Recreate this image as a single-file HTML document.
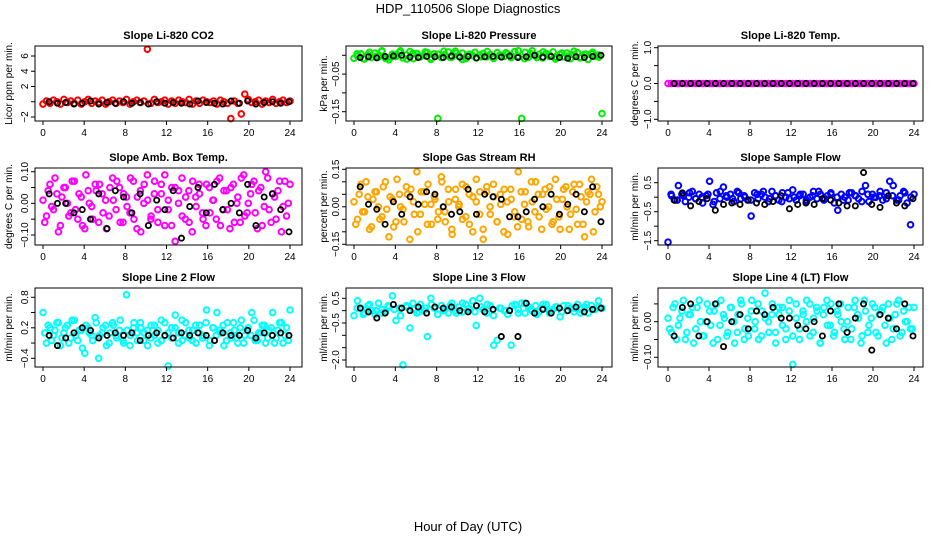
<!DOCTYPE html>
<html><head><meta charset="utf-8"><style>
body{margin:0;background:#fff;}
svg{display:block;font-family:"Liberation Sans",sans-serif;}
</style></head><body>
<svg id="chart" width="936" height="540" viewBox="0 0 936 540">
<text x="468" y="13" text-anchor="middle" font-size="13">HDP_110506  Slope Diagnostics</text>
<text x="468" y="531" text-anchor="middle" font-size="13">Hour of Day (UTC)</text>
</svg>
<script>
const xTicks=[0,4,8,12,16,20,24];
const co2Vals=[-0.3,0.1,-0.2,0.2,0.0,-0.3,0.3,-0.1,0.1,-0.2,0.2,-0.3,0.0,0.3,-0.2,0.1,-0.1,0.2,-0.3,0.0,0.2,-0.2,0.1,-0.1,0.3,-0.3,0.0,0.2,-0.1,0.1,6.9,-0.2,0.3,-0.1,0.0,0.2,-0.3,0.1,-0.2,0.2,0.0,-0.1,0.3,-0.3,0.1,-0.2,0.2,0.0,-0.1,0.1,-0.3,0.2,0.0,-0.2,-2.2,0.1,-0.2,-1.6,1.0,0.3,-0.1,0.0,0.2,-0.3,0.1,-0.1,0.3,-0.2,0.0,0.2,-0.1,0.1];
const co2Vals2=[];
const co2Black=[0.0,-0.2,-0.1,-0.3,-0.2,0.1,-0.3,-0.1,-0.2,0.0,-0.2,-0.1,-0.3,0.0,-0.2,-0.1,-0.2,-0.3,0.1,-0.1,-0.2,-0.3,0.1,-0.2,0.1,-0.3,-0.1,0.0,-0.2,0.0];
const presVals=[-0.008,-0.002,0.004,-0.010,0.002,-0.006,0.006,-0.004,0.012,-0.008,-0.012,0.003,-0.003,0.008,-0.007,0.001,0.010,-0.009,0.005,-0.004,0.000,0.007,-0.011,0.004,-0.168,-0.006,0.002,0.009,-0.005,0.011,-0.002,0.006,-0.009,0.003,-0.001,-0.007,0.001,0.005,-0.004,0.002,-0.008,0.007,0.000,-0.003,0.004,-0.006,0.010,-0.002,-0.168,0.008,-0.005,0.012,-0.001,0.003,-0.007,0.005,-0.003,0.009,-0.006,0.002,-0.004,0.006,-0.009,0.001,0.007,-0.005,0.003,-0.011,0.004,-0.002,0.001,-0.155];
const presVals2=[0.004,-0.009,0.008,-0.003,0.010,-0.006,0.001,0.012,-0.010,0.005,-0.002,0.009,-0.007,0.003,0.011,-0.005,0.006,-0.011,0.002,0.008,-0.004,0.010,-0.008,0.000,0.007,-0.003,0.012,-0.009,0.004,-0.006,0.009,0.001,-0.010,0.006,-0.002,0.011,-0.007,0.003,0.008,-0.005];
const presBlack=[-0.006,-0.004,-0.007,-0.003,-0.002,0.000,-0.005,-0.006,-0.003,-0.004,-0.006,-0.002,-0.005,-0.003,-0.007,-0.004,-0.003,-0.005,-0.002,-0.006,-0.004,0.000,-0.005,-0.003,-0.006,-0.008,-0.004,-0.006,-0.003,0.000];
const tempVals=[0,0,0,0,0,0,0,0,0,0,0,0,0,0,0,0,0,0,0,0,0,0,0,0,0,0,0,0,0,0,0,0,0,0,0,0,0,0,0,0,0,0,0,0,0,0,0,0,0,0,0,0,0,0,0,0,0,0,0,0,0,0,0,0,0,0,0,0,0,0,0,0];
const tempVals2=[];
const tempBlack=[0,0,0,0,0,0,0,0,0,0,0,0,0,0,0,0,0,0,0,0,0,0,0,0,0,0,0,0,0,0];
const ambVals=[0.01,-0.04,0.06,-0.02,0.03,-0.07,0.05,0.00,-0.03,0.07,-0.05,0.02,-0.08,0.04,-0.01,0.06,-0.06,0.03,0.01,-0.04,0.08,-0.02,0.05,-0.06,0.02,-0.03,0.07,-0.08,0.04,0.00,0.09,-0.05,0.03,-0.02,0.06,-0.07,0.01,0.05,-0.12,0.04,-0.04,0.02,-0.06,0.07,-0.01,0.03,-0.05,0.06,-0.03,0.01,0.07,-0.07,0.04,-0.02,0.05,-0.06,0.02,0.08,-0.04,0.00,0.06,-0.03,0.04,-0.07,0.10,-0.02,0.03,-0.05,0.07,-0.01,-0.04,0.06];
const ambVals2=[-0.06,0.04,-0.01,0.08,-0.09,0.02,0.05,-0.04,0.07,-0.02,0.03,-0.07,0.09,0.00,-0.05,0.04,0.06,-0.03,-0.08,0.05,0.01,0.07,-0.06,0.03,-0.01,0.08,-0.05,0.02,-0.09,0.06,0.01,-0.04,0.07,-0.06,0.03,0.09,-0.02,-0.07,0.05,0.00,0.08,-0.05,0.04,-0.09,0.02,0.06,-0.03,-0.07,0.05,0.01,-0.05,0.08,-0.02,0.04,-0.08,0.06,0.00,-0.06,0.09,-0.03,0.03,0.07,-0.08,0.05,-0.01,0.08,-0.06,0.02,0.04,-0.09,0.07,0.00];
const ambBlack=[0.03,0.00,0.00,-0.03,-0.02,-0.05,0.03,-0.08,0.04,0.02,-0.03,0.03,-0.07,0.01,-0.02,0.04,-0.11,-0.01,0.05,-0.03,0.06,-0.02,0.00,-0.03,0.06,-0.07,0.02,0.03,-0.02,-0.09];
const rhVals=[0.02,-0.05,0.09,-0.02,0.04,-0.08,0.06,0.00,-0.04,0.10,-0.12,0.03,-0.06,0.05,-0.01,0.08,-0.13,0.02,0.14,-0.03,0.06,-0.07,0.01,0.04,-0.05,0.12,-0.02,0.07,-0.09,0.03,0.00,0.09,-0.04,0.05,-0.10,0.02,0.06,-0.13,0.08,-0.03,0.04,-0.06,0.01,0.07,-0.11,0.03,-0.02,0.14,-0.05,0.06,-0.08,0.02,0.10,-0.04,0.05,-0.01,0.08,-0.06,0.03,-0.09,0.07,0.00,-0.03,0.09,-0.07,0.04,-0.12,0.06,0.11,-0.02,0.05,0.02];
const rhVals2=[-0.07,0.05,-0.02,0.10,-0.09,0.03,0.06,-0.05,0.08,-0.01,0.04,-0.08,0.11,0.00,-0.06,0.05,0.07,-0.03,-0.10,0.06,0.01,0.09,-0.07,0.03,-0.02,0.10,-0.06,0.02,-0.11,0.07,0.01,-0.05,0.08,-0.07,0.04,0.11,-0.03,-0.09,0.06,0.00,0.09,-0.06,0.05,-0.10,0.02,0.07,-0.04,-0.08,0.06,0.01,-0.06,0.10,-0.02,0.05,-0.09,0.07,0.00,-0.07,0.11,-0.04,0.03,0.08,-0.09,0.06,-0.01,0.09,-0.07,0.02,0.05,-0.10,0.08,0.00];
const rhBlack=[0.08,0.01,-0.01,-0.07,0.02,-0.03,0.04,0.01,0.06,0.05,0.00,-0.03,-0.02,0.07,-0.03,0.05,0.04,0.03,-0.04,-0.04,-0.02,0.03,0.00,0.05,-0.03,0.01,0.05,-0.02,0.08,-0.06];
const sfVals=[-1.55,0.05,-0.10,0.40,0.10,-0.15,0.00,0.20,-0.05,0.10,-0.20,0.05,0.55,-0.25,0.15,-0.05,0.35,0.00,0.10,-0.15,0.20,-0.05,0.05,-0.10,-0.65,0.15,-0.05,0.10,0.00,-0.15,0.20,0.05,-0.10,0.15,0.00,-0.05,0.25,-0.10,0.05,0.10,-0.15,0.00,0.20,-0.05,0.10,-0.10,0.05,0.15,-0.20,-0.45,0.10,0.00,-0.10,0.15,0.05,-0.05,0.20,0.40,-0.15,0.10,0.00,0.05,-0.10,0.15,0.55,0.40,-0.10,0.05,0.20,-0.20,-0.95,0.10];
const sfVals2=[0.10,-0.10,0.05,0.15,-0.05,0.00,0.10,-0.15,0.20,0.05,-0.05,0.15,0.00,-0.10,0.10,0.20,-0.05,0.05,-0.15,0.15,0.00,0.10,-0.10,0.05,0.20,-0.05,0.10,0.00,-0.10,0.15,0.05,-0.15,0.10,0.00,0.20,-0.05,0.05,-0.10,0.15,0.00];
const sfBlack=[-0.10,0.15,-0.30,-0.15,-0.05,-0.45,-0.25,-0.20,-0.25,-0.10,-0.20,-0.25,-0.15,0.05,-0.40,-0.25,-0.20,-0.25,-0.05,-0.10,-0.20,-0.30,-0.30,0.85,-0.25,-0.35,0.05,-0.20,-0.30,-0.05];
const l2Vals=[0.50,-0.10,0.20,0.05,0.30,-0.15,0.10,0.25,0.00,0.35,-0.05,0.15,-0.30,0.20,0.05,0.40,-0.40,0.10,0.25,-0.10,0.30,0.05,0.15,-0.05,0.85,-0.15,0.20,0.10,0.30,-0.05,0.15,0.00,0.25,-0.10,0.35,0.05,-0.55,0.20,0.45,0.10,-0.05,0.30,0.00,0.15,-0.10,0.25,0.05,0.55,-0.05,0.20,0.50,0.10,-0.15,0.30,0.00,0.15,-0.10,0.35,0.05,0.20,0.50,-0.05,0.10,0.25,-0.10,0.15,0.50,0.00,0.30,-0.10,0.20,0.55];
const l2Vals2=[0.10,0.25,-0.05,0.15,0.30,0.00,0.20,-0.10,0.35,0.05,0.15,-0.20,0.25,0.10,-0.05,0.30,0.05,0.20,-0.15,0.10,0.25,0.00,0.35,-0.10,0.15,0.05,0.30,-0.05,0.20,0.10,-0.15,0.25,0.05,0.15,-0.05,0.30,0.10,0.00,0.20,-0.10,0.35,0.05,0.15,-0.05,0.25,0.10,0.00,0.30,-0.15,0.20,0.05,0.15,0.25,-0.05,0.10,0.30,0.00,0.20,-0.10,0.15,0.05,0.35,-0.05,0.10,0.25,0.00,0.20,-0.10,0.15,0.30,0.05,-0.05];
const l2Black=[0.05,-0.15,0.00,0.10,0.20,0.15,0.00,0.05,0.10,0.05,0.10,-0.05,0.05,0.10,0.05,0.00,0.10,0.05,0.10,0.05,-0.05,0.10,0.05,0.05,0.15,0.00,0.10,0.05,0.10,0.05];
const l3Vals=[-0.20,0.40,0.10,-0.10,0.20,0.00,-0.15,0.30,0.05,-0.05,0.15,0.60,-0.40,0.10,-2.20,0.20,-0.70,0.05,-0.10,0.25,0.00,-1.05,0.50,0.10,-0.15,0.20,0.05,-0.10,0.30,0.00,0.15,-0.05,0.25,0.10,0.40,-0.60,0.50,0.05,-0.10,0.20,-1.40,-1.20,0.10,0.00,-0.15,-1.40,0.25,0.05,0.30,-0.10,0.15,0.00,0.20,-0.05,0.10,0.25,-0.10,0.05,0.15,-0.25,0.20,0.00,0.10,-0.05,0.25,0.05,0.15,-0.10,0.20,0.05,0.40,0.10];
const l3Vals2=[0.10,-0.15,0.25,0.00,-0.10,0.20,0.05,-0.20,0.15,0.30,-0.05,0.10,0.25,-0.15,0.00,0.20,-0.10,0.30,0.05,-0.05,0.15,0.25,-0.20,0.10,0.00,0.20,-0.10,0.30,0.05,-0.15,0.25,0.00,0.15,-0.05,0.20,0.10,-0.10,0.25,0.05,0.15];
const l3Black=[0.10,-0.05,-0.30,-0.10,0.25,0.10,0.00,0.15,-0.10,0.15,0.10,0.15,0.00,-0.05,0.20,-0.05,0.05,-1.05,0.00,-1.05,0.30,-0.10,0.05,-0.10,0.10,0.00,0.15,-0.05,0.05,0.10];
const l4Vals=[0.01,-0.03,0.05,-0.01,0.03,-0.05,0.02,0.04,-0.02,0.06,-0.04,0.00,0.03,-0.06,0.05,-0.01,0.02,-0.04,0.04,0.00,-0.03,0.06,-0.05,0.01,0.03,-0.02,0.05,-0.04,0.08,0.00,0.02,-0.03,0.04,-0.01,-0.05,0.03,-0.12,0.05,-0.02,0.02,0.06,-0.04,0.01,0.03,-0.06,0.04,-0.01,0.05,-0.03,0.02,0.00,-0.05,0.04,-0.02,0.06,0.01,-0.04,0.03,-0.01,0.05,-0.03,0.02,0.04,-0.06,0.01,-0.02,0.05,-0.04,0.03,0.00,-0.02,0.04];
const l4Vals2=[-0.02,0.04,-0.05,0.01,0.06,-0.03,0.02,-0.06,0.04,0.00,-0.04,0.05,-0.01,0.03,-0.05,0.06,0.01,-0.03,0.04,-0.06,0.02,0.05,-0.02,-0.04,0.06,0.00,-0.05,0.03,0.01,-0.03,0.05,-0.06,0.02,0.04,-0.02,0.06,-0.04,0.01,-0.05,0.03,0.00,0.05,-0.03,0.04,-0.06,0.02,0.06,-0.01,-0.04,0.03,0.05,-0.02,0.00,-0.05,0.04,0.02,-0.06,0.06,-0.03,0.01,0.04,-0.04,0.03,-0.01,0.05,-0.05,0.02,0.06,-0.03,0.00,0.04,-0.02];
const l4Black=[-0.04,0.04,0.05,-0.04,0.00,0.05,-0.07,0.00,0.02,-0.02,0.03,0.02,0.04,0.01,0.01,-0.01,-0.02,0.00,-0.04,0.03,0.05,-0.03,0.01,0.05,-0.08,0.02,0.01,-0.02,0.05,-0.04];

const NS="http://www.w3.org/2000/svg";
const svg=document.getElementById('chart');
function mk(tag,attrs,parent){const e=document.createElementNS(NS,tag);for(const k in attrs)e.setAttribute(k,attrs[k]);(parent||svg).appendChild(e);return e;}

const cols=[{l:35,r:302,x0:43,x24:290,yl:8},{l:346,r:612,x0:354,x24:602,yl:323},{l:658,r:923,x0:668,x24:914,yl:634}];
const rows=[{t:46,b:121},{t:168,b:245},{t:288,b:367}];
const panels=[
 {name:'co2',title:'Slope Li-820 CO2',ylab:'Licor ppm per min.',c:0,r:0,v1:6,p1:56,v2:-2,p2:117,ticks:[-2,0,2,4,6],labels:['−2','','2','4','6'],col:'#ff0000',vals:co2Vals,vals2:co2Vals2,blk:co2Black},
 {name:'pressure',title:'Slope Li-820 Pressure',ylab:'kPa per min.',c:1,r:0,v1:0,p1:55.3,v2:-0.15,p2:111.7,ticks:[-0.15,-0.10,-0.05,0],labels:['−0.15','','−0.05',''],col:'#00ee00',vals:presVals,vals2:presVals2,blk:presBlack},
 {name:'temp',title:'Slope Li-820 Temp.',ylab:'degrees C per min.',c:2,r:0,v1:1,p1:47.7,v2:-1,p2:119.3,ticks:[-1,-0.5,0,0.5,1],labels:['−1.0','','0.0','','1.0'],col:'#ff00ff',vals:tempVals,vals2:tempVals2,blk:tempBlack},
 {name:'amb-box-temp',title:'Slope Amb. Box Temp.',ylab:'degrees C per min.',c:0,r:1,v1:0.10,p1:171.7,v2:-0.10,p2:235,ticks:[-0.10,-0.05,0,0.05,0.10],labels:['−0.10','','0.00','','0.10'],col:'#ff00ff',vals:ambVals,vals2:ambVals2,blk:ambBlack},
 {name:'gas-stream-rh',title:'Slope Gas Stream RH',ylab:'percent per min.',c:1,r:1,v1:0.15,p1:169.3,v2:-0.15,p2:244.3,ticks:[-0.15,-0.10,-0.05,0,0.05,0.10,0.15],labels:['−0.15','','','0.00','','','0.15'],col:'#ffa500',vals:rhVals,vals2:rhVals2,blk:rhBlack},
 {name:'sample-flow',title:'Slope Sample Flow',ylab:'ml/min per min.',c:2,r:1,v1:0.5,p1:182.7,v2:-1.5,p2:240.7,ticks:[-1.5,-1,-0.5,0,0.5],labels:['−1.5','','−0.5','','0.5'],col:'#0000ff',vals:sfVals,vals2:sfVals2,blk:sfBlack},
 {name:'line2-flow',title:'Slope Line 2 Flow',ylab:'ml/min per min.',c:0,r:2,v1:0.8,p1:297.3,v2:-0.4,p2:358.3,ticks:[-0.4,-0.1,0.2,0.5,0.8],labels:['−0.4','','0.2','','0.8'],col:'#00ffff',vals:l2Vals,vals2:l2Vals2,blk:l2Black},
 {name:'line3-flow',title:'Slope Line 3 Flow',ylab:'ml/min per min.',c:1,r:2,v1:0.5,p1:298.3,v2:-2.0,p2:360,ticks:[-2,-1.5,-1,-0.5,0,0.5],labels:['−2.0','','','−0.5','','0.5'],col:'#00ffff',vals:l3Vals,vals2:l3Vals2,blk:l3Black},
 {name:'line4-flow',title:'Slope Line 4 (LT) Flow',ylab:'ml/min per min.',c:2,r:2,v1:0,p1:321.7,v2:-0.10,p2:357.3,ticks:[-0.10,-0.05,0,0.05],labels:['−0.10','','0.00',''],col:'#00ffff',vals:l4Vals,vals2:l4Vals2,blk:l4Black}
];

panels.forEach(p=>{
 const C=cols[p.c],R=rows[p.r];
 const xs=h=>C.x0+(C.x24-C.x0)*h/24;
 const ys=v=>p.p2+(v-p.v2)*(p.p1-p.p2)/(p.v1-p.v2);
 const g=mk('g',{});
 
 
 const t=mk('text',{x:(C.l+C.r)/2,y:R.t-7,'text-anchor':'middle','font-size':'11','font-weight':'bold'},g);
 t.textContent=p.title;
 
 
 const yl=mk('text',{x:C.yl+4,y:(R.t+R.b)/2,'text-anchor':'middle','font-size':'10',transform:`rotate(-90 ${C.yl+4} ${(R.t+R.b)/2})`},g);
 yl.textContent=p.ylab;
 
 
 const pts=mk('g',{},g);
 
 
 const n=p.vals.length;
 p.vals.forEach((v,i)=>{
  const h=24*i/(n-1);
  const c=mk('circle',{cx:xs(h),cy:ys(v),r:2.8,fill:'none',stroke:p.col,'stroke-width':2},pts);
  
  
 });
 const n2=p.vals2.length;
 p.vals2.forEach((v,i)=>{
  const h=24*(i+0.5)/n2;
  const c=mk('circle',{cx:xs(h),cy:ys(v),r:2.8,fill:'none',stroke:p.col,'stroke-width':2},pts);
  
  
 });
 const nb=p.blk.length;
 p.blk.forEach((v,i)=>{
  const h=0.6+23.3*i/(nb-1);
  const c=mk('circle',{cx:xs(h),cy:ys(v),r:2.6,fill:'none',stroke:'#000','stroke-width':1.8},pts);
  
  
 });
 const box=mk('rect',{x:C.l,y:R.t,width:C.r-C.l,height:R.b-R.t,fill:'none',stroke:'#000','stroke-width':1},g);
 
 
 const xa=mk('g',{},g);
 
 
 xTicks.forEach(h=>{
  mk('line',{x1:xs(h),x2:xs(h),y1:R.b,y2:R.b+4,stroke:'#000'},xa);
  const tl=mk('text',{x:xs(h),y:R.b+15,'text-anchor':'middle','font-size':'10'},xa);
  tl.textContent=h;
  
  
 });
 const ya=mk('g',{},g);
 
 
 p.ticks.forEach((v,i)=>{
  mk('line',{x1:C.l-4,x2:C.l,y1:ys(v),y2:ys(v),stroke:'#000'},ya);
  if(p.labels[i]){
   const lx=C.l-7,ly=ys(v);
   const tl=mk('text',{x:lx,y:ly,'text-anchor':'middle','font-size':'10',transform:`rotate(-90 ${lx} ${ly})`},ya);
   tl.textContent=p.labels[i];
   
   
  }
 });
});
</script>
</body></html>
